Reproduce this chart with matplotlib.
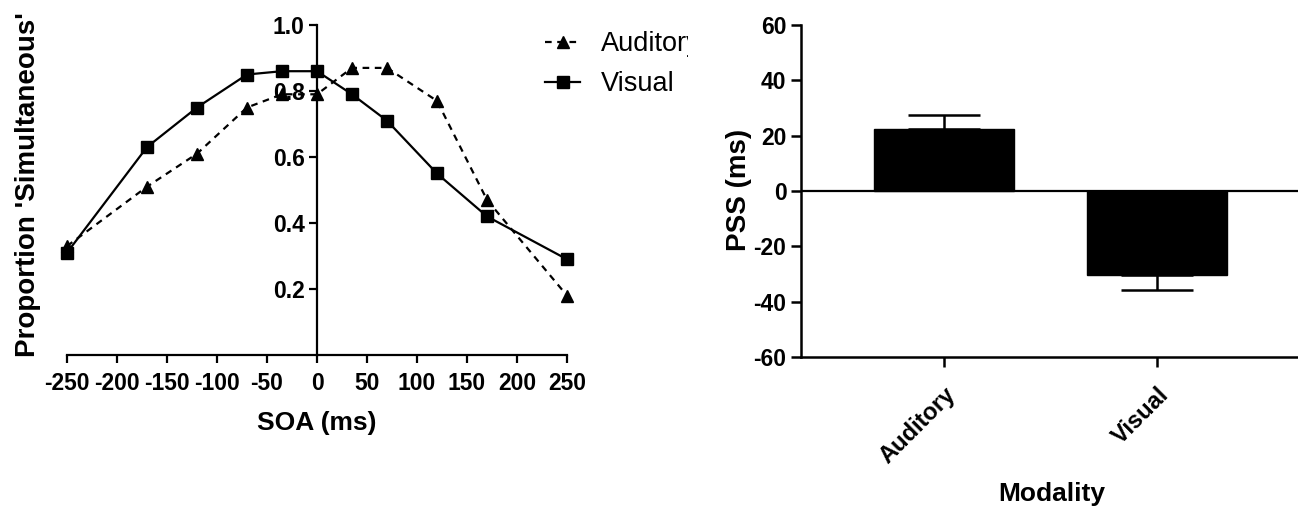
import matplotlib.pyplot as plt
from matplotlib.transforms import Bbox, TransformedBbox

# Left panel: proportion "simultaneous" per SOA
soa = [-250, -170, -120, -70, -35, 0, 35, 70, 120, 170, 250]
auditory = [0.33, 0.51, 0.61, 0.75, 0.79, 0.79, 0.87, 0.87, 0.77, 0.47, 0.18]
visual = [0.31, 0.63, 0.75, 0.85, 0.86, 0.86, 0.79, 0.71, 0.55, 0.42, 0.29]

# Right panel: PSS per modality
modality = ['Auditory', 'Visual']
pss = [22.4, -30.4]
pss_err = [5.1, 5.4]

plt.rcParams['font.family'] = ['Liberation Sans', 'DejaVu Sans']
plt.rcParams['font.weight'] = 'bold'
plt.rcParams['axes.unicode_minus'] = False

W, H = 1298, 507
fig = plt.figure(figsize=(W / 100, H / 100), dpi=100)


def px_axes(left, top, right, bottom):
    # axes placed by pixel edges of the figure
    return fig.add_axes([left / W, 1 - bottom / H, (right - left) / W, (bottom - top) / H])


# ---- left: psychometric curves
ax1 = px_axes(67, 25, 567, 355)
ax1.plot(soa, auditory, color='black', ls=(0, (3, 2.5)), lw=1.6,
         marker='^', ms=8, label='Auditory', clip_on=False, zorder=3)
ax1.plot(soa, visual, color='black', lw=1.6,
         marker='s', ms=9, label='Visual', clip_on=False, zorder=3)
ax1.set_xlim(-250, 250)
ax1.set_ylim(0, 1.0)
ax1.spines['top'].set_visible(False)
ax1.spines['right'].set_visible(False)
ax1.spines['left'].set_position(('data', 0))
for s in ('left', 'bottom'):
    ax1.spines[s].set_linewidth(1.6)
ax1.set_xticks(range(-250, 251, 50))
ax1.set_yticks([0.2, 0.4, 0.6, 0.8, 1.0])
ax1.set_yticklabels(['0.2', '0.4', '0.6', '0.8', '1.0'])
ax1.tick_params(direction='out', length=6, width=1.6, labelsize=16.5, pad=3)
ax1.tick_params(axis='x', pad=6)
ax1.set_ylabel("Proportion 'Simultaneous'", fontsize=20, fontweight='bold')
ax1.yaxis.set_label_coords((41 - 67) / 500, (355 - 185) / 330)
ax1.set_xlabel('SOA (ms)', fontsize=19, fontweight='bold')
ax1.xaxis.set_label_coords(0.5, (355 - 411) / 330)

leg = ax1.legend(loc='upper left', bbox_to_anchor=(545 / W, 1 - 31 / H),
                 bbox_transform=fig.transFigure, frameon=False,
                 prop={'size': 19.5, 'weight': 'normal'},
                 handlelength=1.3, handletextpad=0.75, borderpad=0,
                 borderaxespad=0, labelspacing=0.52)
# legend text is cut off at the panel edge in the original
clip = TransformedBbox(Bbox([[0, 0], [688 / W, 1]]), fig.transFigure)
for t in leg.get_texts():
    t.set_clip_box(clip)
    t.set_clip_on(True)

# ---- right: PSS bars
ax2 = px_axes(801, 25, 1303, 357)
x = [0, 1]
ax2.bar(x, pss, width=0.66, color='black', edgecolor='black', zorder=2)
lower = [e if v < 0 else 0 for v, e in zip(pss, pss_err)]
upper = [e if v > 0 else 0 for v, e in zip(pss, pss_err)]
ax2.errorbar(x, pss, yerr=[lower, upper], fmt='none', ecolor='black',
             elinewidth=1.8, capsize=26, capthick=1.8, zorder=3)
ax2.axhline(0, color='black', lw=1.6, zorder=4)
ax2.set_xlim((801 - 944) / 213, (1303 - 944) / 213)
ax2.set_ylim(-60, 60)
ax2.spines['top'].set_visible(False)
ax2.spines['right'].set_visible(False)
for s in ('left', 'bottom'):
    ax2.spines[s].set_linewidth(1.8)
ax2.set_yticks(range(-60, 61, 20))
ax2.set_xticks(x)
ax2.set_xticklabels(modality)
ax2.tick_params(direction='out', length=7, width=1.8, labelsize=16.5)
ax2.tick_params(axis='x', pad=12, labelsize=17)
for lbl in ax2.get_xticklabels():
    lbl.set_rotation(45)
    lbl.set_ha('right')
    lbl.set_va('top')
    lbl.set_rotation_mode('anchor')
ax2.set_ylabel('PSS (ms)', fontsize=20, fontweight='bold')
ax2.yaxis.set_label_coords((752 - 801) / 502, (357 - 190) / 332)
ax2.set_xlabel('Modality', fontsize=19, fontweight='bold')
ax2.xaxis.set_label_coords(0.5, (357 - 482) / 332)

fig.savefig('out.png', dpi=100)
